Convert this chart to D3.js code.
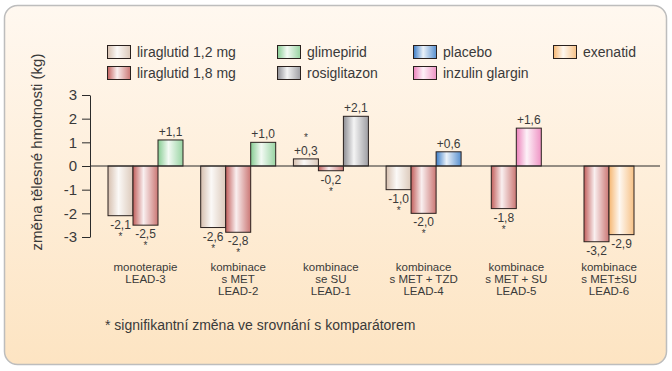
<!DOCTYPE html>
<html>
<head>
<meta charset="utf-8">
<script src="https://cdn.jsdelivr.net/npm/d3@7"></script>
<style>
  body { margin: 0; background: #ffffff; }
  svg { display: block; font-family: "Liberation Sans", Arial, sans-serif; }
</style>
</head>
<body>
<svg id="chart" width="672" height="371"></svg>
<script>
// ---------- data ----------
var groupLabels = [
    ["monoterapie", "LEAD-3"],
    ["kombinace", "s MET", "LEAD-2"],
    ["kombinace", "se SU", "LEAD-1"],
    ["kombinace", "s MET + TZD", "LEAD-4"],
    ["kombinace", "s MET + SU", "LEAD-5"],
    ["kombinace", "s MET\u00b1SU", "LEAD-6"]
];
var lira12 = [-2.1, -2.6, 0.3, -1.0, null, null];
var lira18 = [-2.5, -2.8, -0.2, -2.0, -1.8, -3.2];
var comparator = [1.1, 1.0, 2.1, 0.6, 1.6, -2.9];
var comparatorName = ["glimepirid", "glimepirid", "rosiglitazon", "placebo", "inzulin glargin", "exenatid"];
var sig12 = [true, true, true, true, false, false];
var sig18 = [true, true, true, true, true, false];

var seriesNames = ["liraglutid 1,2 mg", "liraglutid 1,8 mg", "glimepirid", "rosiglitazon", "placebo", "inzulin glargin", "exenatid"];
var yTicks = [-3, -2, -1, 0, 1, 2, 3];

var colorMapping = {
    "liraglutid 1,2 mg": "#d6bfae",
    "liraglutid 1,8 mg": "#c25f5c",
    "glimepirid": "#86cc92",
    "rosiglitazon": "#8d8d93",
    "placebo": "#3b7cc6",
    "inzulin glargin": "#ec80ba",
    "exenatid": "#f6b670"
};

// ---------- layout ----------
var svg = d3.select("#chart");
var barW = 25;
var axisX = 90;
var textCol = "#3a3a3a";

var defs = svg.append("defs");

var bg = defs.append("linearGradient").attr("id", "bg")
    .attr("x1", 0).attr("y1", 0).attr("x2", 0).attr("y2", 1);
bg.append("stop").attr("offset", "0%").attr("stop-color", "#fff8f0");
bg.append("stop").attr("offset", "100%").attr("stop-color", "#fde4c2");

// one horizontal gradient per series (light stripe in the middle)
seriesNames.forEach(function (s, i) {
    var g = defs.append("linearGradient").attr("id", "grad" + i)
        .attr("x1", 0).attr("y1", 0).attr("x2", 1).attr("y2", 0);
    var c = colorMapping[s];
    g.append("stop").attr("offset", "0%").attr("stop-color", c);
    g.append("stop").attr("offset", "42%").attr("stop-color", d3.interpolateRgb(c, "#ffffff")(0.9));
    g.append("stop").attr("offset", "100%").attr("stop-color", d3.interpolateRgb(c, "#ffffff")(0.15));
});
function fillOf(name) { return "url(#grad" + seriesNames.indexOf(name) + ")"; }

svg.append("rect")
    .attr("x", 4.5).attr("y", 5.5).attr("width", 662).attr("height", 359)
    .attr("rx", 13).attr("ry", 13)
    .style("fill", "url(#bg)")
    .style("stroke", "#bdbdbd").style("stroke-width", 1.5);

// scales
var yScale = d3.scaleLinear().domain([-3, 3]).range([237, 95]);
var groupScale = d3.scalePoint().domain(d3.range(groupLabels.length)).range([145.5, 609]);

// y axis
var yAxis = d3.axisLeft(yScale).tickValues(yTicks).tickSize(8).tickSizeOuter(0)
    .tickPadding(5).tickFormat(function (d) { return String(d); });
svg.append("g")
    .attr("transform", "translate(" + axisX + ",0)")
    .call(yAxis)
    .style("color", "#2b2b2b")
    .call(function (g) {
        g.selectAll(".tick text").style("font-size", "15px").style("fill", textCol)
            .style("font-family", "'Liberation Sans', Arial, sans-serif");
    });

svg.append("text")
    .attr("transform", "translate(42," + 152 + ") rotate(-90)")
    .attr("text-anchor", "middle")
    .style("font-size", "15px").style("fill", textCol)
    .text("změna tělesné hmotnosti (kg)");

// build bar list
var bars = [];
groupLabels.forEach(function (lab, gi) {
    var items = [];
    if (lira12[gi] !== null) items.push({ s: "liraglutid 1,2 mg", v: lira12[gi], sig: sig12[gi] });
    if (lira18[gi] !== null) items.push({ s: "liraglutid 1,8 mg", v: lira18[gi], sig: sig18[gi] });
    items.push({ s: comparatorName[gi], v: comparator[gi], sig: false });
    var c = groupScale(gi);
    var inner = d3.scaleBand().domain(d3.range(items.length))
        .range([c - items.length * barW / 2, c + items.length * barW / 2]);
    items.forEach(function (d, k) {
        d.x = inner(k);
        d.w = inner.bandwidth();
        d.g = gi;
        bars.push(d);
    });
});

svg.selectAll(".bar")
    .data(bars)
    .enter()
    .append("rect")
    .attr("class", "bar")
    .attr("x", d => d.x)
    .attr("width", d => d.w)
    .attr("y", d => yScale(Math.max(0, d.v)))
    .attr("height", d => Math.abs(yScale(d.v) - yScale(0)))
    .style("fill", d => fillOf(d.s))
    .style("stroke", "#2a211e")
    .style("stroke-width", 1);

// zero line
svg.append("line")
    .attr("x1", axisX).attr("x2", 660)
    .attr("y1", yScale(0)).attr("y2", yScale(0))
    .style("stroke", "#2b2b2b").style("stroke-width", 1);

function fmt(v) {
    return (v > 0 ? "+" : "-") + Math.abs(v).toFixed(1).replace(".", ",");
}

// value labels
svg.selectAll(".val")
    .data(bars)
    .enter()
    .append("text")
    .attr("class", "val")
    .attr("x", d => d.x + d.w / 2)
    .attr("y", d => d.v > 0 ? yScale(d.v) - 4 : yScale(d.v) + 13)
    .attr("text-anchor", "middle")
    .style("font-size", "12px").style("fill", textCol)
    .text(d => fmt(d.v));

// significance stars
svg.selectAll(".star")
    .data(bars.filter(d => d.sig))
    .enter()
    .append("text")
    .attr("class", "star")
    .attr("x", d => d.x + d.w / 2)
    .attr("y", d => d.v > 0 ? yScale(d.v) - 18 : yScale(d.v) + 24)
    .attr("text-anchor", "middle")
    .style("font-size", "10px").style("fill", textCol)
    .text("*");

// group labels
var gl = svg.selectAll(".glab")
    .data(groupLabels)
    .enter()
    .append("text")
    .attr("class", "glab")
    .attr("text-anchor", "middle")
    .style("font-size", "11.5px").style("fill", textCol);
gl.selectAll("tspan")
    .data((d, i) => d.map(t => ({ t: t, gi: i })))
    .enter()
    .append("tspan")
    .attr("x", d => groupScale(d.gi))
    .attr("y", (d, k) => 271 + k * 12)
    .text(d => d.t);

// legend
var legendColX = [107, 277, 413, 553];
var legendRowY = [52, 73];
var legend = svg.selectAll(".leg")
    .data(seriesNames)
    .enter()
    .append("g")
    .attr("class", "leg")
    .attr("transform", (d, i) => "translate(" + legendColX[Math.floor(i / 2)] + "," + legendRowY[i % 2] + ")");
legend.append("rect")
    .attr("x", 0.5).attr("y", -6.5).attr("width", 23).attr("height", 13)
    .style("fill", d => fillOf(d))
    .style("stroke", "#2a211e").style("stroke-width", 1);
legend.append("text")
    .attr("x", 30).attr("y", 5)
    .style("font-size", "14px").style("fill", textCol)
    .text(d => d);

// footnote
svg.append("text")
    .attr("x", 105).attr("y", 330)
    .style("font-size", "14px").style("fill", textCol)
    .text("* signifikantní změna ve srovnání s komparátorem");
</script>
</body>
</html>
